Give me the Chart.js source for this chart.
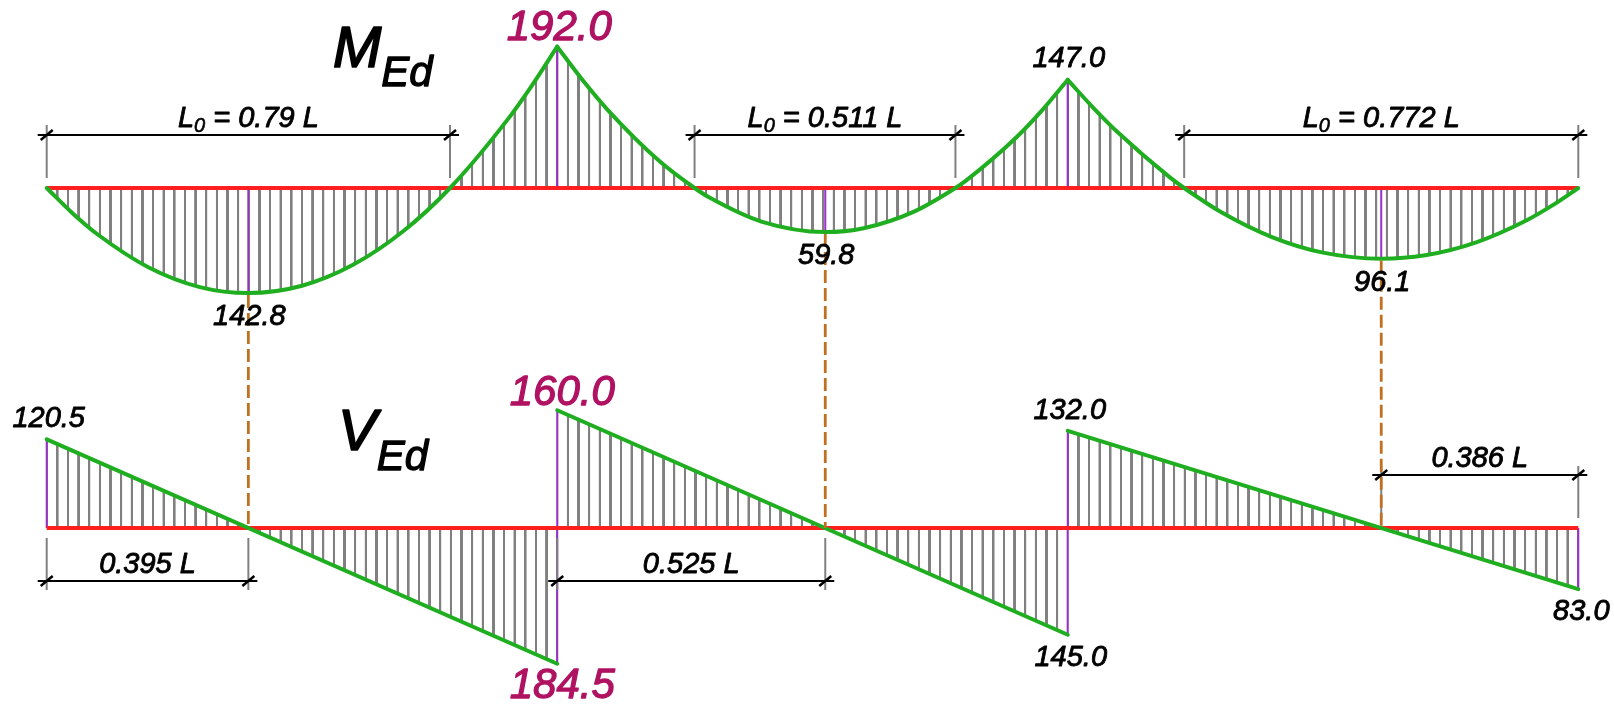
<!DOCTYPE html>
<html>
<head>
<meta charset="utf-8">
<script src="https://cdn.jsdelivr.net/npm/chart.js@4.4.1/dist/chart.umd.min.js"></script>
<style>
  html, body { margin: 0; padding: 0; background: #ffffff; }
  canvas { display: block; }
</style>
</head>
<body>
<canvas id="chart" width="1614" height="704"></canvas>
<script>
// ---------------- DATA (moments in kNm, shears in kN, positions in span lengths L) ----------------
const SPAN_START = [0, 1, 2];
const SUPPORT_X = [0, 1, 2, 3];
const M_SUPPORT = [0, -192.0, -147.0, 0];          // hogging moments at supports (negative = drawn upward)
const M_MAX = [142.8, 59.8, 96.1];                 // max sagging moments
const M_MAX_POS = [0.395, 0.525, 0.614];           // position of max moment / zero shear in each span
const L0_START = [0, 0.269, 0.228];                // start of the sagging zone (moment zero point)
const L0_VALUE = [0.79, 0.511, 0.772];             // length of the sagging zone L0 / L
const V_LEFT = [120.5, 160.0, 132.0];              // shear at the left end of each span
const V_RIGHT = [-184.5, -145.0, -83.0];           // shear at the right end of each span
const V_DIM_FROM = [0, 1, 2.614];
const V_DIM_TO = [0.395, 1.525, 3];

// bending-moment ordinates read along each span (position within span, value)
const M1_POS = [0, 0.05, 0.1, 0.2, 0.3, 0.395, 0.5, 0.6, 0.7, 0.79, 0.9, 0.95, 1.0];
const M1_VAL = [0, 33.9, 63.2, 108.0, 134.6, 142.8, 132.8, 104.4, 57.8, 0, -90.5, -138.9, -192.0];
const M2_POS = [0, 0.05, 0.1, 0.2, 0.269, 0.3, 0.4, 0.525, 0.6, 0.7, 0.78, 0.8, 0.9, 0.95, 1.0];
const M2_VAL = [-192.0, -146.3, -105.2, -36.6, 0, 13.7, 45.6, 59.8, 54.6, 31.7, 0, -9.6, -69.2, -105.8, -147.0];
const M3_POS = [0, 0.05, 0.1, 0.2, 0.228, 0.3, 0.4, 0.5, 0.614, 0.7, 0.8, 0.9, 0.95, 1.0];
const M3_VAL = [-147.0, -109.0, -74.3, -14.4, 0, 32.6, 66.6, 87.8, 96.1, 91.4, 73.8, 43.4, 23.3, 0];

const M_POS = [M1_POS, M2_POS, M3_POS];
const M_VAL = [M1_VAL, M2_VAL, M3_VAL];

// ---------------- STYLE ----------------
const GREEN = '#1fae1f';
const RED = '#ff1f1f';
const PURPLE = '#9a30cc';
const GREY = '#808080';
const ORANGE = '#c0701f';
const MAGENTA = '#b01262';
const FONT = '"Liberation Sans", Arial, sans-serif';
const HATCH_PER_SPAN = 48;
const HATCH_WIDTH = 2.4;

// layout of the drawing: pixel position of the x=0 / x=3 supports and both base lines
const CANVAS_W = 1614, CANVAS_H = 704;
const X0_PX = 46.7, X3_PX = 1578.3;
const M_BASE_PX = 188, V_BASE_PX = 528;
const PX_PER_UNIT = 0.736;

const spanPx = (X3_PX - X0_PX) / 3;
const X_MIN = -X0_PX / spanPx;
const X_MAX = 3 + (CANVAS_W - X3_PX) / spanPx;
const Y_RANGE = CANVAS_H / PX_PER_UNIT;
const YM_MIN = -M_BASE_PX / PX_PER_UNIT, YM_MAX = YM_MIN + Y_RANGE;
const YV_MIN = -(CANVAS_H - V_BASE_PX) / PX_PER_UNIT, YV_MAX = YV_MIN + Y_RANGE;

// ---------------- hatch pattern aligned to the supports ----------------
let hatchCache = null;
function hatch(chart) {
  const xs = chart.scales && chart.scales.x;
  if (!xs) return 'rgba(0,0,0,0)';
  const x0 = xs.getPixelForValue(0);
  const s = (xs.getPixelForValue(1) - x0) / HATCH_PER_SPAN;
  if (!isFinite(x0) || !isFinite(s) || s <= 0) return 'rgba(0,0,0,0)';
  const key = x0.toFixed(3) + '|' + s.toFixed(4);
  if (hatchCache && hatchCache.key === key) return hatchCache.p;
  const W = 64;
  const c = document.createElement('canvas');
  c.width = W; c.height = 4;
  const g = c.getContext('2d');
  g.fillStyle = GREY;
  const lw = HATCH_WIDTH * W / s;
  g.fillRect(0, 0, lw / 2, 4);
  g.fillRect(W - lw / 2, 0, lw / 2, 4);
  const p = chart.ctx.createPattern(c, 'repeat');
  p.setTransform(new DOMMatrix([s / W, 0, 0, 1, x0, 0]));
  hatchCache = { key, p };
  return p;
}

// ---------------- datasets ----------------
const datasets = [];
// green moment curves
M_POS.forEach((pos, i) => {
  datasets.push({
    label: 'M span ' + (i + 1),
    yAxisID: 'yM',
    data: pos.map((p, k) => ({ x: SPAN_START[i] + p, y: M_VAL[i][k] })),
    borderColor: GREEN, borderWidth: 4, pointRadius: 0,
    borderCapStyle: 'round', borderJoinStyle: 'round',
    cubicInterpolationMode: 'monotone',
    fill: 'origin',
    backgroundColor: (ctx) => hatch(ctx.chart)
  });
});
// green shear lines
V_LEFT.forEach((vl, i) => {
  datasets.push({
    label: 'V span ' + (i + 1),
    yAxisID: 'yV',
    data: [{ x: SPAN_START[i], y: vl }, { x: SPAN_START[i] + 1, y: V_RIGHT[i] }],
    borderColor: GREEN, borderWidth: 4, pointRadius: 0,
    borderCapStyle: 'round',
    fill: 'origin',
    backgroundColor: (ctx) => hatch(ctx.chart)
  });
});
// red base lines
datasets.push({
  label: 'M axis', yAxisID: 'yM',
  data: [{ x: SUPPORT_X[0], y: 0 }, { x: SUPPORT_X[3], y: 0 }],
  borderColor: RED, borderWidth: 4, pointRadius: 0, fill: false
});
datasets.push({
  label: 'V axis', yAxisID: 'yV',
  data: [{ x: SUPPORT_X[0], y: 0 }, { x: SUPPORT_X[3], y: 0 }],
  borderColor: RED, borderWidth: 4, pointRadius: 0, fill: false
});
// purple ordinate lines
function purple(axis, x, y1, y2) {
  datasets.push({
    label: 'ordinate', yAxisID: axis,
    data: [{ x: x, y: y1 }, { x: x, y: y2 }],
    borderColor: PURPLE, borderWidth: 2, pointRadius: 0, fill: false
  });
}
M_SUPPORT.forEach((m, i) => { if (m !== 0) purple('yM', SUPPORT_X[i], 0, m); });
M_MAX.forEach((m, i) => purple('yM', SPAN_START[i] + M_MAX_POS[i], 0, m));
SUPPORT_X.forEach((sx, i) => {
  const below = i > 0 ? V_RIGHT[i - 1] : 0;
  const above = i < V_LEFT.length ? V_LEFT[i] : 0;
  purple('yV', sx, below, above);
});

// ---------------- annotation plugin (dimensions, dashed links, texts) ----------------
function fontOf(size) { return 'italic ' + size + 'px ' + FONT; }
function rich(ctx, parts, x, y, align, color) {
  let w = 0;
  parts.forEach(p => { ctx.font = fontOf(p[1]); w += ctx.measureText(p[0]).width; });
  let cx = align === 'center' ? x - w / 2 : x;
  ctx.textAlign = 'left';
  ctx.textBaseline = 'alphabetic';
  ctx.fillStyle = color || '#000';
  ctx.strokeStyle = color || '#000';
  ctx.setLineDash([]);
  ctx.lineJoin = 'round';
  parts.forEach(p => {
    ctx.font = fontOf(p[1]);
    ctx.lineWidth = p[1] * 0.03;
    ctx.fillText(p[0], cx, y + (p[2] || 0));
    ctx.strokeText(p[0], cx, y + (p[2] || 0));
    cx += ctx.measureText(p[0]).width;
  });
}
function seg(ctx, x1, y1, x2, y2) {
  ctx.beginPath(); ctx.moveTo(x1, y1); ctx.lineTo(x2, y2); ctx.stroke();
}
function extLines(ctx, xs, yA, yB) {
  ctx.strokeStyle = GREY; ctx.lineWidth = 2; ctx.setLineDash([]);
  xs.forEach(x => seg(ctx, x, yA, x, yB));
}
function dimLine(ctx, xa, xb, y, parts) {
  ctx.setLineDash([]);
  ctx.strokeStyle = '#000'; ctx.lineWidth = 2;
  seg(ctx, xa - 9, y, xb + 9, y);
  ctx.lineWidth = 2.5;
  [xa, xb].forEach(x => seg(ctx, x - 6, y + 5, x + 6, y - 5));
  rich(ctx, parts, (xa + xb) / 2, y - 8, 'center', '#000');
}

const annotations = {
  id: 'annotations',
  afterDatasetsDraw(chart) {
    const { ctx } = chart;
    const xS = chart.scales.x, yM = chart.scales.yM, yV = chart.scales.yV;
    const X = v => xS.getPixelForValue(v);
    const mb = yM.getPixelForValue(0), vb = yV.getPixelForValue(0);
    ctx.save();

    // --- extension lines ---
    const topDimY = mb - 53;
    L0_START.forEach((s, i) => {
      const xa = X(SPAN_START[i] + s), xb = X(SPAN_START[i] + s + L0_VALUE[i]);
      extLines(ctx, [xa, xb], topDimY - 10, mb - 10);
    });
    const vDims = V_DIM_FROM.map((f, i) => {
      const below = i < 2;
      return { xa: X(f), xb: X(V_DIM_TO[i]), y: below ? vb + 53 : vb - 53, below,
               label: (V_DIM_TO[i] - f).toFixed(3) };
    });
    vDims.forEach(d => {
      if (d.below) extLines(ctx, [d.xa, d.xb], vb + 10, d.y + 9);
      else extLines(ctx, [d.xa, d.xb], d.y - 9, vb - 10);
    });

    // --- dashed links between max moment and zero shear ---
    ctx.strokeStyle = ORANGE; ctx.lineWidth = 2.8; ctx.setLineDash([13, 5]);
    M_MAX.forEach((m, i) => {
      const x = X(SPAN_START[i] + M_MAX_POS[i]);
      seg(ctx, x, yM.getPixelForValue(m) + 2, x, vb);
    });
    ctx.setLineDash([]);

    // --- dimension lines ---
    L0_START.forEach((s, i) => {
      const xa = X(SPAN_START[i] + s), xb = X(SPAN_START[i] + s + L0_VALUE[i]);
      dimLine(ctx, xa, xb, topDimY, [['L', 29], ['0', 20, 5], [' = ' + L0_VALUE[i] + ' L', 29]]);
    });
    vDims.forEach(d => dimLine(ctx, d.xa, d.xb, d.y, [[d.label + ' L', 29]]));

    // --- diagram titles ---
    rich(ctx, [['M', 58], ['Ed', 42, 19]], 333, mb - 121, 'left', '#000');
    rich(ctx, [['V', 58], ['Ed', 42, 20]], 338, vb - 78, 'left', '#000');

    // --- value labels ---
    const maxHog = Math.max(...M_SUPPORT.map(Math.abs));
    const maxVpos = Math.max(...V_LEFT), maxVneg = Math.min(...V_RIGHT);
    const label = (txt, x, y, hi) => rich(ctx, [[txt, hi ? 42 : 29]], x, y, 'center', hi ? MAGENTA : '#000');

    M_SUPPORT.forEach((m, i) => {
      if (m === 0) return;
      const hi = Math.abs(m) === maxHog;
      label(Math.abs(m).toFixed(1), X(SUPPORT_X[i]) + (hi ? 2 : 1), yM.getPixelForValue(m) + (hi ? -7 : -13), hi);
    });
    M_MAX.forEach((m, i) => {
      label(m.toFixed(1), X(SPAN_START[i] + M_MAX_POS[i]) + 1, yM.getPixelForValue(m) + 32, false);
    });
    V_LEFT.forEach((v, i) => {
      const hi = v === maxVpos;
      label(v.toFixed(1), X(SPAN_START[i]) + (hi ? 5 : 2), yV.getPixelForValue(v) + (hi ? -5 : -12), hi);
    });
    V_RIGHT.forEach((v, i) => {
      const hi = v === maxVneg;
      label(Math.abs(v).toFixed(1), X(SPAN_START[i] + 1) + (hi ? 5 : 3), yV.getPixelForValue(v) + (hi ? 34 : 31), hi);
    });

    ctx.restore();
  }
};

// ---------------- chart ----------------
new Chart(document.getElementById('chart'), {
  type: 'line',
  data: { datasets },
  options: {
    responsive: false,
    animation: false,
    events: [],
    layout: { padding: 0 },
    scales: {
      x: { type: 'linear', min: X_MIN, max: X_MAX, display: false },
      yM: { type: 'linear', position: 'left', reverse: true, min: YM_MIN, max: YM_MAX, display: false },
      yV: { type: 'linear', position: 'left', min: YV_MIN, max: YV_MAX, display: false }
    },
    plugins: {
      legend: { display: false },
      tooltip: { enabled: false },
      filler: { drawTime: 'beforeDatasetsDraw', propagate: false }
    }
  },
  plugins: [annotations]
});
</script>
</body>
</html>
